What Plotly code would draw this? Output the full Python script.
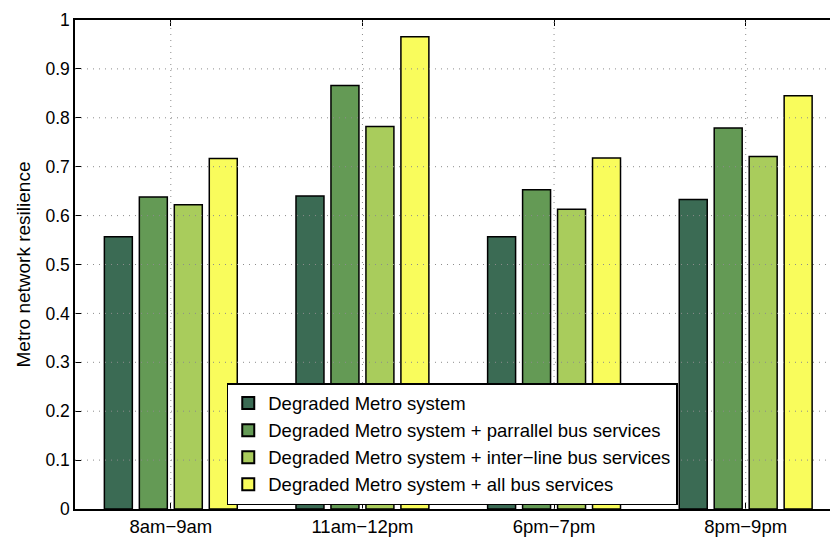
import plotly.graph_objects as go

# Time windows and resilience scores for each scenario
periods = ["8am\u22129am", "11am\u221212pm", "6pm\u22127pm", "8pm\u22129pm"]
degraded = [0.557, 0.640, 0.557, 0.633]
parallel_bus = [0.638, 0.866, 0.653, 0.779]
interline_bus = [0.622, 0.782, 0.613, 0.721]
all_bus = [0.717, 0.966, 0.718, 0.845]

series_names = [
    "Degraded Metro system",
    "Degraded Metro system + parrallel bus services",
    "Degraded Metro system + inter\u2212line bus services",
    "Degraded Metro system + all bus services",
]
series_values = [degraded, parallel_bus, interline_bus, all_bus]
series_colors = ["#3b6b54", "#649a55", "#a9cc5c", "#f9fc5c"]

y_ticks = [0, 0.1, 0.2, 0.3, 0.4, 0.5, 0.6, 0.7, 0.8, 0.9, 1]
y_ticktext = ["0", "0.1", "0.2", "0.3", "0.4", "0.5", "0.6", "0.7", "0.8", "0.9", "1"]

FONT = "Liberation Sans, Arial, Helvetica, sans-serif"

fig = go.Figure()
for name, vals, col in zip(series_names, series_values, series_colors):
    fig.add_trace(go.Bar(
        x=periods, y=vals, name=name,
        marker=dict(color=col, line=dict(color="#000000", width=1.5)),
    ))

# Dotted grid drawn over the bars
grid_style = dict(color="#8c8c8c", width=1, dash="1px,5px")
for yv in y_ticks[1:-1]:
    fig.add_shape(type="line", xref="paper", yref="y", x0=0, x1=1, y0=yv, y1=yv,
                  line=grid_style, layer="above")
for p in periods:
    fig.add_shape(type="line", xref="x", yref="paper", x0=p, x1=p, y0=0, y1=1,
                  line=grid_style, layer="above")

fig.update_layout(
    width=830, height=537,
    margin=dict(l=75, r=0, t=20, b=24),
    paper_bgcolor="white", plot_bgcolor="white",
    font=dict(family=FONT, size=18, color="#000000"),
    barmode="group", bargap=0.27, bargroupgap=0.2,
    showlegend=True,
    legend=dict(
        x=0.201, y=0.008, xanchor="left", yanchor="bottom",
        bgcolor="white", bordercolor="#000000", borderwidth=1.5,
        font=dict(family=FONT, size=18.5, color="#000000"),
        tracegroupgap=0, itemsizing="constant",
    ),
    xaxis=dict(
        range=[-0.5, 3.44], showgrid=False,
        showline=True, linecolor="#000000", linewidth=1.5,
        mirror="ticks", ticks="inside", ticklen=6, tickcolor="#000000",
        tickfont=dict(family=FONT, size=18.5),
    ),
    yaxis=dict(
        range=[0, 1], tickvals=y_ticks, ticktext=y_ticktext,
        showgrid=False, zeroline=False,
        showline=True, linecolor="#000000", linewidth=1.5,
        ticks="inside", ticklen=6, tickcolor="#000000",
        tickfont=dict(family=FONT, size=17.5),
        title=dict(text="Metro network resilience", font=dict(family=FONT, size=19), standoff=10),
    ),
)

fig.write_html("out.html")
